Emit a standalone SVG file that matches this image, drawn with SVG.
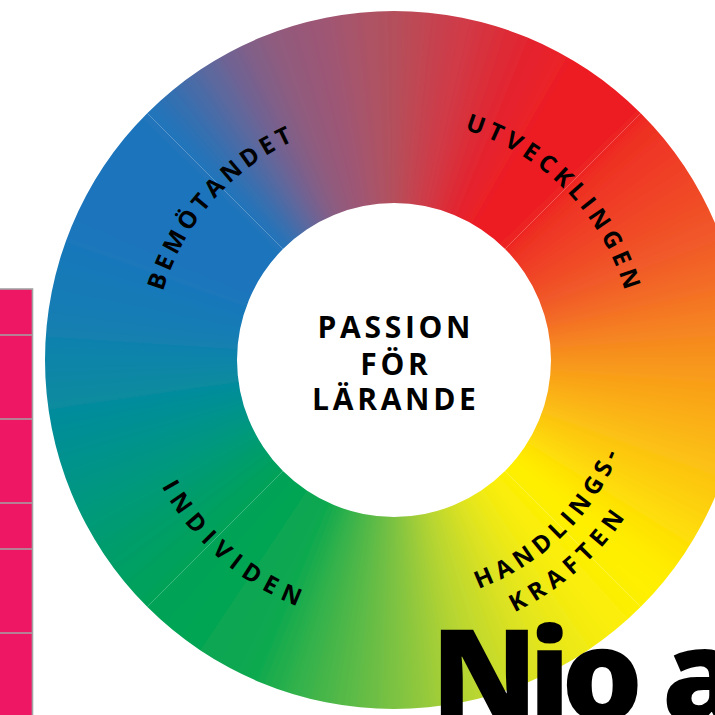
<svg xmlns="http://www.w3.org/2000/svg" xmlns:xlink="http://www.w3.org/1999/xlink" width="715" height="715" viewBox="0 0 715 715">
<style>
.lbl{font-family:"Open Sans","Liberation Sans",sans-serif;font-weight:700;font-size:24px;fill:#000}
.ctr{font-family:"Open Sans","Liberation Sans",sans-serif;font-weight:700;font-size:30px;letter-spacing:3.7px;fill:#000;text-anchor:middle}
.big{font-family:"Open Sans","Liberation Sans",sans-serif;font-weight:800;font-size:128px;fill:#000}
.seam{stroke:#fff;stroke-opacity:0.3;stroke-width:0.8;fill:none}
.cell{stroke:#a3a3a3;stroke-width:1.6}
</style>
<defs>
<path id="w" d="M379.41,-19.72 A380,380 0 0 1 408.59,-19.72 L398.61,240.09 A120,120 0 0 0 389.39,240.09 Z"/>
<path id="aT" d="M153,360 A241,241 0 0 1 635,360"/>
<path id="aB1" d="M129.5,360 A264.5,264.5 0 0 0 658.5,360"/>
<path id="aB2" d="M150,360 A244,244 0 0 0 638,360"/>
<path id="aB3" d="M114.5,360 A279.5,279.5 0 0 0 673.5,360"/>
<clipPath id="ring"><path clip-rule="evenodd" d="M394,11 A349,349 0 1 1 394,709 A349,349 0 1 1 394,11 Z M394,203 A157,157 0 1 0 394,517 A157,157 0 1 0 394,203 Z"/></clipPath>
<filter id="soft" filterUnits="userSpaceOnUse" x="-50" y="-50" width="900" height="820"><feGaussianBlur stdDeviation="8"/></filter>
</defs>
<rect width="715" height="715" fill="#fff"/>
<g id="table">
<rect x="-2" y="289" width="34.5" height="430" fill="#ed1763" class="cell"/>
<line x1="0" y1="335" x2="32.5" y2="335" class="cell"/>
<line x1="0" y1="419" x2="32.5" y2="419" class="cell"/>
<line x1="0" y1="503" x2="32.5" y2="503" class="cell"/>
<line x1="0" y1="549" x2="32.5" y2="549" class="cell"/>
<line x1="0" y1="633" x2="32.5" y2="633" class="cell"/>
</g>
<g id="wheel" clip-path="url(#ring)">
<g filter="url(#soft)">
<use href="#w" transform="rotate(0 394 360)" fill="#b4505c"/>
<use href="#w" transform="rotate(4 394 360)" fill="#bd4955"/>
<use href="#w" transform="rotate(8 394 360)" fill="#c7414d"/>
<use href="#w" transform="rotate(12 394 360)" fill="#d03a46"/>
<use href="#w" transform="rotate(16 394 360)" fill="#d7323e"/>
<use href="#w" transform="rotate(20 394 360)" fill="#de2a36"/>
<use href="#w" transform="rotate(24 394 360)" fill="#e4242f"/>
<use href="#w" transform="rotate(28 394 360)" fill="#e9202a"/>
<use href="#w" transform="rotate(32 394 360)" fill="#ed1c24"/>
<use href="#w" transform="rotate(36 394 360)" fill="#ed1d24"/>
<use href="#w" transform="rotate(40 394 360)" fill="#ed1d24"/>
<use href="#w" transform="rotate(44 394 360)" fill="#ed1e24"/>
<use href="#w" transform="rotate(48 394 360)" fill="#ee3124"/>
<use href="#w" transform="rotate(52 394 360)" fill="#ef3825"/>
<use href="#w" transform="rotate(56 394 360)" fill="#ef4026"/>
<use href="#w" transform="rotate(60 394 360)" fill="#f04727"/>
<use href="#w" transform="rotate(64 394 360)" fill="#f04f28"/>
<use href="#w" transform="rotate(68 394 360)" fill="#f15629"/>
<use href="#w" transform="rotate(72 394 360)" fill="#f26028"/>
<use href="#w" transform="rotate(76 394 360)" fill="#f36b25"/>
<use href="#w" transform="rotate(80 394 360)" fill="#f47723"/>
<use href="#w" transform="rotate(84 394 360)" fill="#f58321"/>
<use href="#w" transform="rotate(88 394 360)" fill="#f68e1e"/>
<use href="#w" transform="rotate(92 394 360)" fill="#f8991c"/>
<use href="#w" transform="rotate(96 394 360)" fill="#f9a219"/>
<use href="#w" transform="rotate(100 394 360)" fill="#faac17"/>
<use href="#w" transform="rotate(104 394 360)" fill="#fbb514"/>
<use href="#w" transform="rotate(108 394 360)" fill="#fcbf12"/>
<use href="#w" transform="rotate(112 394 360)" fill="#fdc80f"/>
<use href="#w" transform="rotate(116 394 360)" fill="#fdd10c"/>
<use href="#w" transform="rotate(120 394 360)" fill="#fedb08"/>
<use href="#w" transform="rotate(124 394 360)" fill="#fee305"/>
<use href="#w" transform="rotate(128 394 360)" fill="#ffec02"/>
<use href="#w" transform="rotate(132 394 360)" fill="#fef001"/>
<use href="#w" transform="rotate(136 394 360)" fill="#fdef04"/>
<use href="#w" transform="rotate(140 394 360)" fill="#fbee07"/>
<use href="#w" transform="rotate(144 394 360)" fill="#f6ec0c"/>
<use href="#w" transform="rotate(148 394 360)" fill="#ede914"/>
<use href="#w" transform="rotate(152 394 360)" fill="#e5e61c"/>
<use href="#w" transform="rotate(156 394 360)" fill="#dbe223"/>
<use href="#w" transform="rotate(160 394 360)" fill="#cedd28"/>
<use href="#w" transform="rotate(164 394 360)" fill="#c1d92d"/>
<use href="#w" transform="rotate(168 394 360)" fill="#b4d432"/>
<use href="#w" transform="rotate(172 394 360)" fill="#a2ce37"/>
<use href="#w" transform="rotate(176 394 360)" fill="#8fc83d"/>
<use href="#w" transform="rotate(180 394 360)" fill="#7dc242"/>
<use href="#w" transform="rotate(184 394 360)" fill="#6bbe44"/>
<use href="#w" transform="rotate(188 394 360)" fill="#58ba46"/>
<use href="#w" transform="rotate(192 394 360)" fill="#46b648"/>
<use href="#w" transform="rotate(196 394 360)" fill="#34b24b"/>
<use href="#w" transform="rotate(200 394 360)" fill="#21ad4d"/>
<use href="#w" transform="rotate(204 394 360)" fill="#0fa94f"/>
<use href="#w" transform="rotate(208 394 360)" fill="#09a751"/>
<use href="#w" transform="rotate(212 394 360)" fill="#07a652"/>
<use href="#w" transform="rotate(216 394 360)" fill="#05a553"/>
<use href="#w" transform="rotate(220 394 360)" fill="#03a455"/>
<use href="#w" transform="rotate(224 394 360)" fill="#01a356"/>
<use href="#w" transform="rotate(228 394 360)" fill="#00a15c"/>
<use href="#w" transform="rotate(232 394 360)" fill="#009f64"/>
<use href="#w" transform="rotate(236 394 360)" fill="#009d6b"/>
<use href="#w" transform="rotate(240 394 360)" fill="#009b73"/>
<use href="#w" transform="rotate(244 394 360)" fill="#00997b"/>
<use href="#w" transform="rotate(248 394 360)" fill="#019683"/>
<use href="#w" transform="rotate(252 394 360)" fill="#02938b"/>
<use href="#w" transform="rotate(256 394 360)" fill="#049092"/>
<use href="#w" transform="rotate(260 394 360)" fill="#058d9a"/>
<use href="#w" transform="rotate(264 394 360)" fill="#088aa1"/>
<use href="#w" transform="rotate(268 394 360)" fill="#0b86a6"/>
<use href="#w" transform="rotate(272 394 360)" fill="#0f83ac"/>
<use href="#w" transform="rotate(276 394 360)" fill="#127fb1"/>
<use href="#w" transform="rotate(280 394 360)" fill="#157cb5"/>
<use href="#w" transform="rotate(284 394 360)" fill="#177ab7"/>
<use href="#w" transform="rotate(288 394 360)" fill="#1978b9"/>
<use href="#w" transform="rotate(292 394 360)" fill="#1b76bb"/>
<use href="#w" transform="rotate(296 394 360)" fill="#1c75bc"/>
<use href="#w" transform="rotate(300 394 360)" fill="#1c75bc"/>
<use href="#w" transform="rotate(304 394 360)" fill="#1c75bc"/>
<use href="#w" transform="rotate(308 394 360)" fill="#1c75bc"/>
<use href="#w" transform="rotate(312 394 360)" fill="#1c75bc"/>
<use href="#w" transform="rotate(316 394 360)" fill="#2174ba"/>
<use href="#w" transform="rotate(320 394 360)" fill="#3370b1"/>
<use href="#w" transform="rotate(324 394 360)" fill="#476ca7"/>
<use href="#w" transform="rotate(328 394 360)" fill="#5e679c"/>
<use href="#w" transform="rotate(332 394 360)" fill="#726291"/>
<use href="#w" transform="rotate(336 394 360)" fill="#835e86"/>
<use href="#w" transform="rotate(340 394 360)" fill="#905b7e"/>
<use href="#w" transform="rotate(344 394 360)" fill="#975979"/>
<use href="#w" transform="rotate(348 394 360)" fill="#9e5774"/>
<use href="#w" transform="rotate(352 394 360)" fill="#a6546d"/>
<use href="#w" transform="rotate(356 394 360)" fill="#ad5264"/>
</g>
<line class="seam" x1="505" y1="249" x2="640.8" y2="113.2"/>
<line class="seam" x1="505" y1="471" x2="640.8" y2="606.8"/>
<line class="seam" x1="283" y1="471" x2="147.2" y2="606.8"/>
<line class="seam" x1="283" y1="249" x2="147.2" y2="113.2"/>
</g>
<g id="bemotandet" transform="rotate(-48.6 394 360)">
<text class="lbl" letter-spacing="4.3"><textPath href="#aT" startOffset="50%" text-anchor="middle">BEMÖTANDET</textPath></text>
</g>
<g id="utvecklingen" transform="rotate(45.7 394 360)">
<text class="lbl" letter-spacing="4.8"><textPath href="#aT" startOffset="50%" text-anchor="middle">UTVECKLINGEN</textPath></text>
</g>
<g id="individen" transform="rotate(40.7 394 360)">
<text class="lbl" letter-spacing="7.2"><textPath href="#aB1" startOffset="50%" text-anchor="middle">INDIVIDEN</textPath></text>
</g>
<g id="handlingskraften">
<text class="lbl" letter-spacing="5.4" transform="rotate(-44.4 394 360)"><textPath href="#aB2" startOffset="50%" text-anchor="middle">HANDLINGS-</textPath></text>
<text class="lbl" letter-spacing="6.5" transform="rotate(-41.3 394 360)"><textPath href="#aB3" startOffset="50%" text-anchor="middle">KRAFTEN</textPath></text>
</g>
<g id="center">
<text class="ctr" x="395.85" y="338">PASSION</text>
<text class="ctr" x="395.85" y="374.5">FÖR</text>
<text class="ctr" x="395.85" y="410">LÄRANDE</text>
</g>
<g id="title">
<text class="big" y="721" letter-spacing="-9"><tspan x="431">Nio</tspan><tspan x="662">a</tspan></text>
</g>
</svg>
